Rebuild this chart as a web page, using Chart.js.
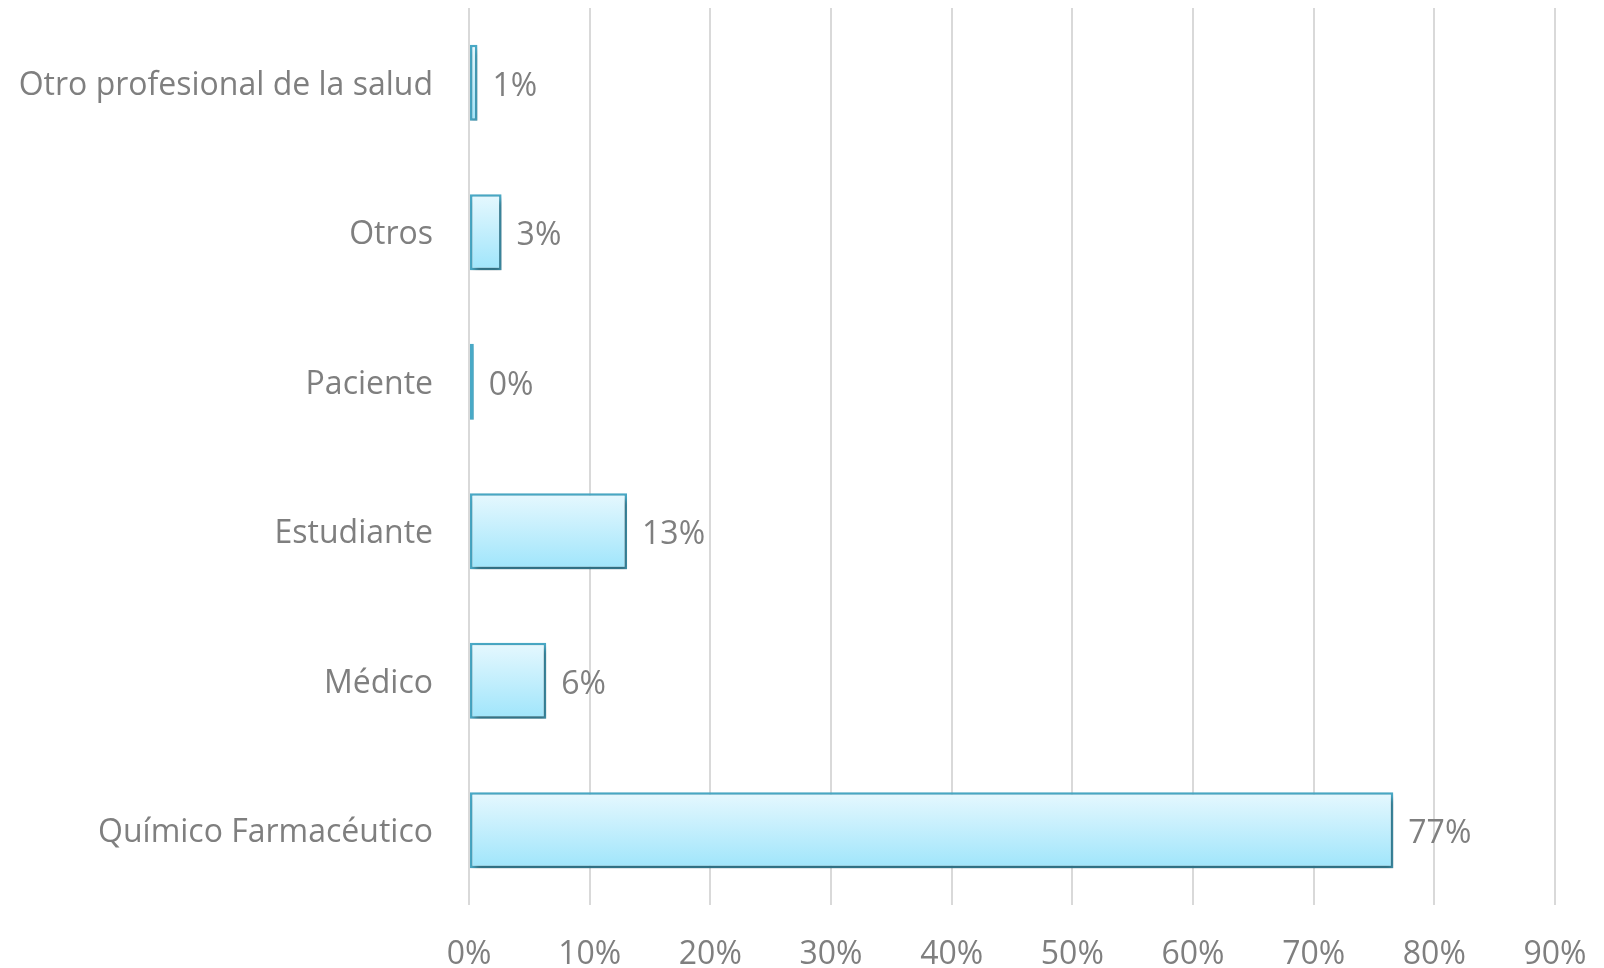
<!DOCTYPE html>
<html>
<head>
<meta charset="utf-8">
<script src="https://cdn.jsdelivr.net/npm/chart.js@4.4.1/dist/chart.umd.min.js"></script>
<style>
    html, body { margin: 0; padding: 0; background: #fff; }
    #wrap { width: 1604px; height: 968px; }
</style>
</head>
<body>
<div id="wrap"><canvas id="chart" width="1604" height="968"></canvas></div>
<script>
// Chart data
const categories = ['Otro profesional de la salud', 'Otros', 'Paciente', 'Estudiante', 'Médico', 'Químico Farmacéutico'];
const percentValues = [0.7, 2.7, 0.4, 13.1, 6.4, 76.6];
const axisTicks = [0, 10, 20, 30, 40, 50, 60, 70, 80, 90];

const TEXT_GRAY = '#7f7f7f';
const FONT = '"Open Sans", Lato, sans-serif';
const FONT_SIZE = 32;
const BAR_PCT = 0.507;

// vertical gradient per bar, computed from the category scale
function barGradient(context) {
    const chart = context.chart;
    const yScale = chart.scales.y;
    if (!yScale || context.dataIndex === undefined) return '#c8f0fc';
    const center = yScale.getPixelForValue(context.dataIndex);
    const half = (yScale.height / categories.length) * BAR_PCT / 2;
    if (!isFinite(center) || !isFinite(half) || half <= 0) return '#c8f0fc';
    const g = chart.ctx.createLinearGradient(0, center - half, 0, center + half);
    g.addColorStop(0, '#e6f8fe');
    g.addColorStop(1, '#9fe5fb');
    return g;
}

// soft drop shadow under the bars
const shadowPlugin = {
    id: 'barShadow',
    beforeDatasetsDraw(chart) {
        const ctx = chart.ctx;
        ctx.save();
        ctx.shadowColor = 'rgba(0, 0, 0, 0.4)';
        ctx.shadowBlur = 6;
        ctx.shadowOffsetX = 2;
        ctx.shadowOffsetY = 4;
    },
    afterDatasetsDraw(chart) {
        chart.ctx.restore();
    }
};

// value labels at the end of each bar
const valueLabelPlugin = {
    id: 'valueLabels',
    afterDatasetsDraw(chart) {
        const ctx = chart.ctx;
        const meta = chart.getDatasetMeta(0);
        ctx.save();
        ctx.font = FONT_SIZE + 'px ' + FONT;
        ctx.fillStyle = TEXT_GRAY;
        ctx.textAlign = 'left';
        ctx.textBaseline = 'middle';
        meta.data.forEach((bar, i) => {
            ctx.fillText(Math.round(percentValues[i]) + '%', bar.x + 15, bar.y + 4);
        });
        ctx.restore();
    }
};

const ctx = document.getElementById('chart').getContext('2d');
const chart = new Chart(ctx, {
    type: 'bar',
    data: {
        labels: categories,
        datasets: [{
            data: percentValues,
            backgroundColor: barGradient,
            borderColor: '#49a9c6',
            borderWidth: 2.5,
            borderSkipped: false,
            categoryPercentage: 1,
            barPercentage: BAR_PCT
        }]
    },
    options: {
        indexAxis: 'y',
        responsive: false,
        animation: false,
        layout: { padding: { top: 8, right: 49, bottom: 0, left: 0 } },
        plugins: {
            legend: { display: false },
            tooltip: { enabled: false }
        },
        scales: {
            x: {
                min: 0,
                max: 90,
                afterBuildTicks(scale) {
                    scale.ticks = axisTicks.map(v => ({ value: v }));
                },
                afterFit(scale) {
                    scale.height = 63;
                    // don't let the end labels push the plot area in
                    scale.paddingLeft = 0;
                    scale.paddingRight = 0;
                },
                grid: { color: '#d9d9d9', lineWidth: 2, drawTicks: false },
                border: { display: false },
                ticks: {
                    padding: 31,
                    color: TEXT_GRAY,
                    font: { family: FONT, size: FONT_SIZE },
                    callback: v => v + '%'
                }
            },
            y: {
                afterFit(scale) {
                    scale.width = 469;
                    scale.paddingTop = 0;
                    scale.paddingBottom = 0;
                },
                grid: { display: false, drawTicks: false },
                border: { display: false },
                ticks: {
                    padding: 36,
                    labelOffset: 3,
                    color: TEXT_GRAY,
                    font: { family: FONT, size: FONT_SIZE }
                }
            }
        }
    },
    plugins: [shadowPlugin, valueLabelPlugin]
});
// re-resolve the gradients once the scales are laid out
chart.update();
</script>
</body>
</html>
